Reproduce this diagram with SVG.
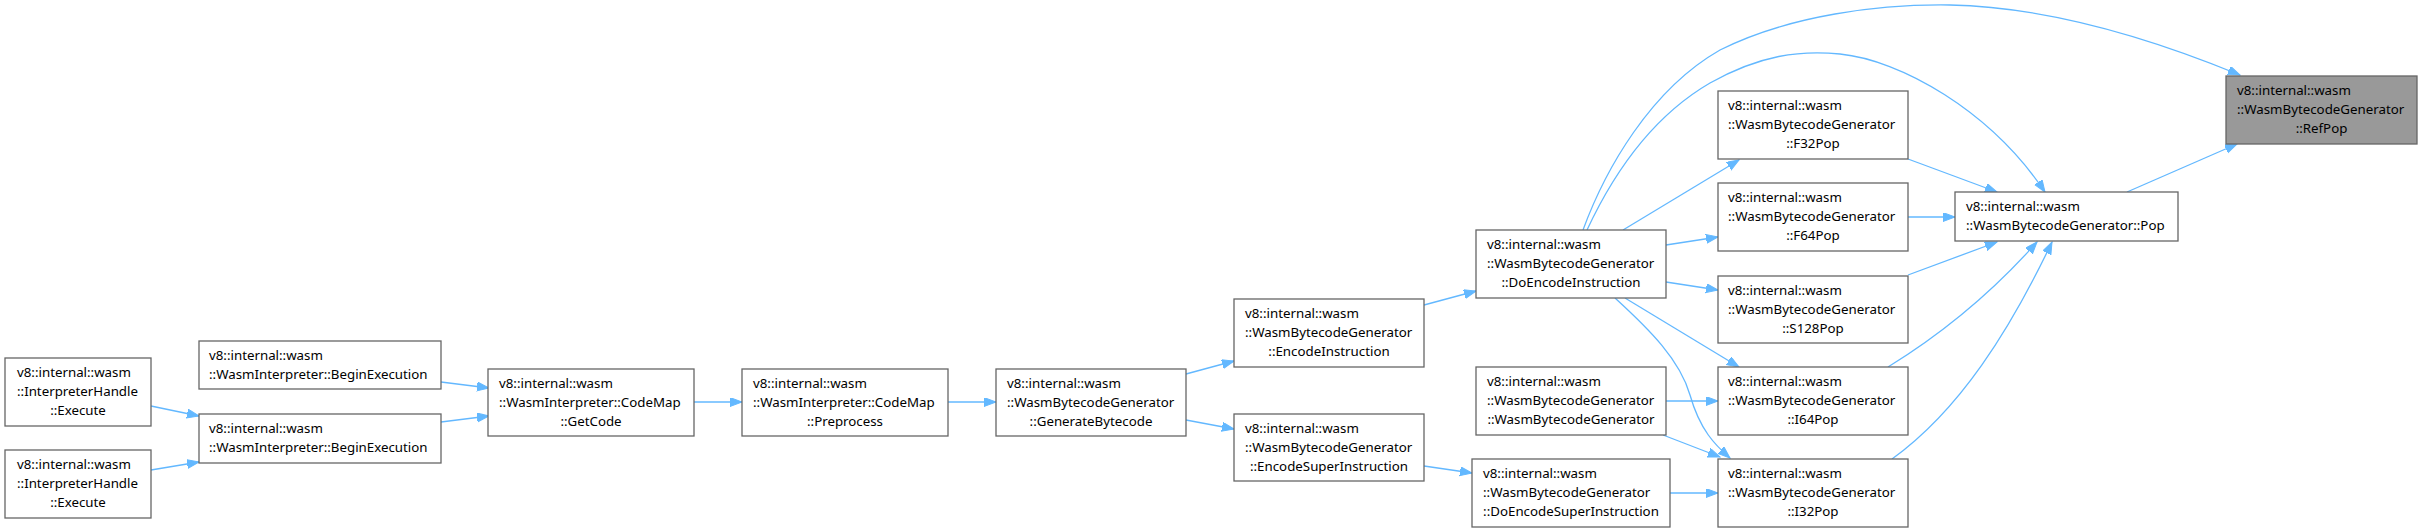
<svg xmlns="http://www.w3.org/2000/svg" width="2422" height="532" viewBox="0 0 2422 532">
<defs>
<style>
.n rect{fill:#ffffff;stroke:#666666;stroke-width:1.3}
.n.hl rect{fill:#999999;stroke:#666666}
.n text{font-family:"Noto Sans","DejaVu Sans",sans-serif;font-size:13.3px;fill:#000000}
.n text.c{text-anchor:middle}
.e path{fill:none;stroke:#63b8ff;stroke-width:1.3}
</style>
<marker id="ah" markerUnits="userSpaceOnUse" markerWidth="13" markerHeight="10" refX="12" refY="4.5" orient="auto">
<path d="M0,0 L12,4.5 L0,9 z" fill="#63b8ff" stroke="#63b8ff" stroke-width="1"/>
</marker>
</defs>
<rect x="0" y="0" width="2422" height="532" fill="#ffffff"/>
<g id="edges" class="e">
<path marker-end="url(#ah)" d="M151,406 L199,416"/>
<path marker-end="url(#ah)" d="M151,470 L199,462"/>
<path marker-end="url(#ah)" d="M441,382 L489,388"/>
<path marker-end="url(#ah)" d="M441,422 L489,416"/>
<path marker-end="url(#ah)" d="M694,402 L742,402"/>
<path marker-end="url(#ah)" d="M948,402 L996,402"/>
<path marker-end="url(#ah)" d="M1186,374 L1234,361"/>
<path marker-end="url(#ah)" d="M1186,420 L1234,429"/>
<path marker-end="url(#ah)" d="M1424,305 L1476,291"/>
<path marker-end="url(#ah)" d="M1424,466 L1472,473"/>
<path marker-end="url(#ah)" d="M1623,230 L1739,160"/>
<path marker-end="url(#ah)" d="M1666,245 L1718,237"/>
<path marker-end="url(#ah)" d="M1666,282 L1718,290"/>
<path marker-end="url(#ah)" d="M1625,298 L1739,367"/>
<path marker-end="url(#ah)" d="M1615,298 C1650,330 1680,360 1690,395 C1700,430 1715,445 1730,458"/>
<path marker-end="url(#ah)" d="M1666,401 L1718,401"/>
<path marker-end="url(#ah)" d="M1663,435 L1720,457"/>
<path marker-end="url(#ah)" d="M1670,493 L1718,493"/>
<path marker-end="url(#ah)" d="M1587,230 C1615,170 1655,115 1710,83 C1760,55 1800,50 1840,54 C1900,60 1990,110 2045,192"/>
<path marker-end="url(#ah)" d="M1583,230 C1605,170 1650,90 1720,50 C1790,15 1880,4 1950,5 C2050,7 2150,38 2240,75"/>
<path marker-end="url(#ah)" d="M1908,159 L1997,192"/>
<path marker-end="url(#ah)" d="M1908,217 L1955,217"/>
<path marker-end="url(#ah)" d="M1908,275 L1997,242"/>
<path marker-end="url(#ah)" d="M1888,367 C1940,335 1990,295 2037,242"/>
<path marker-end="url(#ah)" d="M1892,459 C1960,410 2010,330 2052,242"/>
<path marker-end="url(#ah)" d="M2127,192 L2237,144"/>
</g>
<g id="node_execute1" class="n">
<rect x="5" y="358" width="146" height="68"/>
<text x="17" y="376.5">v8::internal::wasm</text>
<text x="17" y="395.5">::InterpreterHandle</text>
<text class="c" x="78" y="414.5">::Execute</text>
</g>
<g id="node_execute2" class="n">
<rect x="5" y="450" width="146" height="68"/>
<text x="17" y="468.5">v8::internal::wasm</text>
<text x="17" y="487.5">::InterpreterHandle</text>
<text class="c" x="78" y="506.5">::Execute</text>
</g>
<g id="node_beginexec1" class="n">
<rect x="199" y="341" width="242" height="48"/>
<text x="209" y="359.5">v8::internal::wasm</text>
<text x="209" y="378.5">::WasmInterpreter::BeginExecution</text>
</g>
<g id="node_beginexec2" class="n">
<rect x="199" y="414" width="242" height="49"/>
<text x="209" y="432.5">v8::internal::wasm</text>
<text x="209" y="451.5">::WasmInterpreter::BeginExecution</text>
</g>
<g id="node_getcode" class="n">
<rect x="488" y="369" width="206" height="67"/>
<text x="499" y="387.5">v8::internal::wasm</text>
<text x="499" y="406.5">::WasmInterpreter::CodeMap</text>
<text class="c" x="591" y="425.5">::GetCode</text>
</g>
<g id="node_preprocess" class="n">
<rect x="742" y="369" width="206" height="67"/>
<text x="753" y="387.5">v8::internal::wasm</text>
<text x="753" y="406.5">::WasmInterpreter::CodeMap</text>
<text class="c" x="845" y="425.5">::Preprocess</text>
</g>
<g id="node_generatebytecode" class="n">
<rect x="996" y="369" width="190" height="67"/>
<text x="1007" y="387.5">v8::internal::wasm</text>
<text x="1007" y="406.5">::WasmBytecodeGenerator</text>
<text class="c" x="1091" y="425.5">::GenerateBytecode</text>
</g>
<g id="node_encodeinstruction" class="n">
<rect x="1234" y="299" width="190" height="68"/>
<text x="1245" y="317.5">v8::internal::wasm</text>
<text x="1245" y="336.5">::WasmBytecodeGenerator</text>
<text class="c" x="1329" y="355.5">::EncodeInstruction</text>
</g>
<g id="node_encodesuperinstruction" class="n">
<rect x="1234" y="414" width="190" height="67"/>
<text x="1245" y="432.5">v8::internal::wasm</text>
<text x="1245" y="451.5">::WasmBytecodeGenerator</text>
<text class="c" x="1329" y="470.5">::EncodeSuperInstruction</text>
</g>
<g id="node_doencodeinstruction" class="n">
<rect x="1476" y="230" width="190" height="68"/>
<text x="1487" y="248.5">v8::internal::wasm</text>
<text x="1487" y="267.5">::WasmBytecodeGenerator</text>
<text class="c" x="1571" y="286.5">::DoEncodeInstruction</text>
</g>
<g id="node_ctor" class="n">
<rect x="1476" y="367" width="190" height="68"/>
<text x="1487" y="385.5">v8::internal::wasm</text>
<text x="1487" y="404.5">::WasmBytecodeGenerator</text>
<text class="c" x="1571" y="423.5">::WasmBytecodeGenerator</text>
</g>
<g id="node_doencodesuperinstruction" class="n">
<rect x="1472" y="459" width="198" height="68"/>
<text x="1483" y="477.5">v8::internal::wasm</text>
<text x="1483" y="496.5">::WasmBytecodeGenerator</text>
<text class="c" x="1571" y="515.5">::DoEncodeSuperInstruction</text>
</g>
<g id="node_f32pop" class="n">
<rect x="1718" y="91" width="190" height="68"/>
<text x="1728" y="109.5">v8::internal::wasm</text>
<text x="1728" y="128.5">::WasmBytecodeGenerator</text>
<text class="c" x="1813" y="147.5">::F32Pop</text>
</g>
<g id="node_f64pop" class="n">
<rect x="1718" y="183" width="190" height="68"/>
<text x="1728" y="201.5">v8::internal::wasm</text>
<text x="1728" y="220.5">::WasmBytecodeGenerator</text>
<text class="c" x="1813" y="239.5">::F64Pop</text>
</g>
<g id="node_s128pop" class="n">
<rect x="1718" y="276" width="190" height="67"/>
<text x="1728" y="294.5">v8::internal::wasm</text>
<text x="1728" y="313.5">::WasmBytecodeGenerator</text>
<text class="c" x="1813" y="332.5">::S128Pop</text>
</g>
<g id="node_i64pop" class="n">
<rect x="1718" y="367" width="190" height="68"/>
<text x="1728" y="385.5">v8::internal::wasm</text>
<text x="1728" y="404.5">::WasmBytecodeGenerator</text>
<text class="c" x="1813" y="423.5">::I64Pop</text>
</g>
<g id="node_i32pop" class="n">
<rect x="1718" y="459" width="190" height="68"/>
<text x="1728" y="477.5">v8::internal::wasm</text>
<text x="1728" y="496.5">::WasmBytecodeGenerator</text>
<text class="c" x="1813" y="515.5">::I32Pop</text>
</g>
<g id="node_pop" class="n">
<rect x="1955" y="192" width="223" height="49"/>
<text x="1966" y="210.5">v8::internal::wasm</text>
<text x="1966" y="229.5">::WasmBytecodeGenerator::Pop</text>
</g>
<g id="node_refpop" class="n hl">
<rect x="2226" y="76" width="191" height="68"/>
<text x="2237" y="94.5">v8::internal::wasm</text>
<text x="2237" y="113.5">::WasmBytecodeGenerator</text>
<text class="c" x="2321.5" y="132.5">::RefPop</text>
</g>
</svg>
